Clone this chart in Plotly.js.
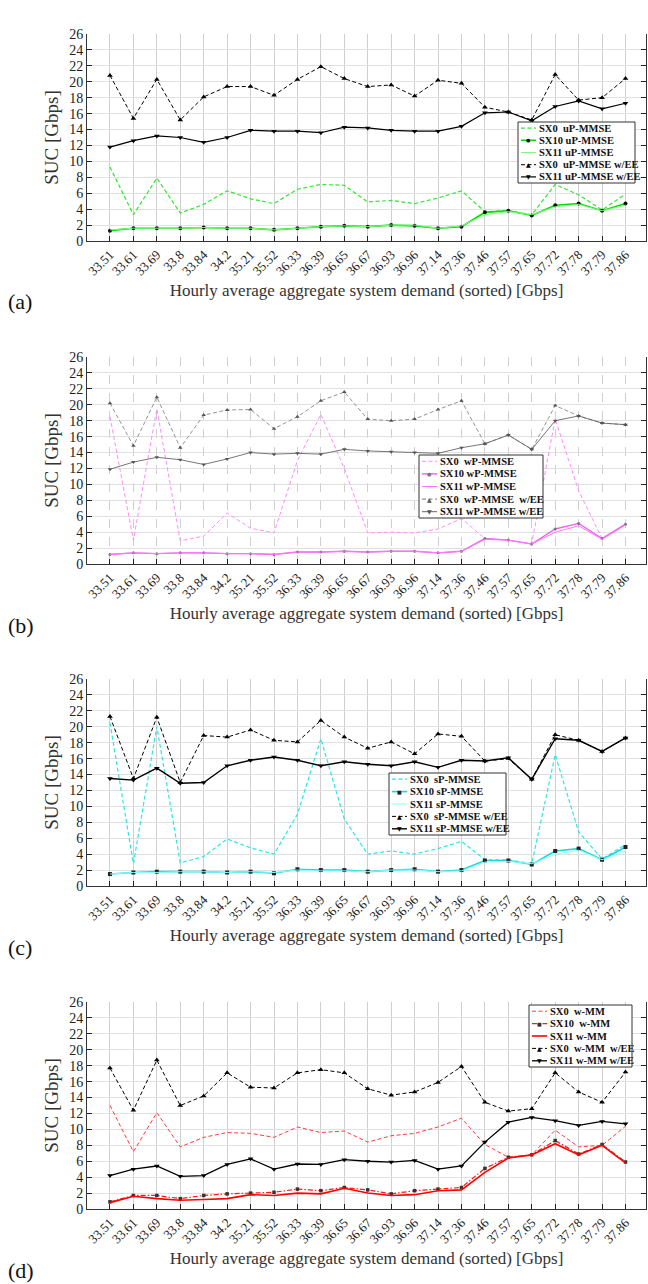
<!DOCTYPE html>
<html><head><meta charset="utf-8">
<script src="https://cdn.plot.ly/plotly-3.0.1.min.js"></script>
<style>html,body{margin:0;padding:0;background:#fff}</style>
</head><body><div id="chart" style="width:648px;height:1284px"></div>
<script>
// ---- data ----
const demand = ["33.51","33.61","33.69","33.8","33.84","34.2","35.21","35.52","36.33","36.39","36.65","36.67","36.93","36.96","37.14","37.36","37.46","37.57","37.65","37.72","37.78","37.79","37.86"];
const hours = ["3","2","1","6","23","21","22","20","19","17","16","18","15","13","11","14","7","5","4","10","8","9","12"];

// (a) uP-MMSE
const a_sx0  = [9.3,3.3,7.9,3.5,4.6,6.3,5.3,4.7,6.5,7.1,7.0,4.9,5.1,4.7,5.4,6.3,3.7,3.8,3.3,7.1,5.8,3.9,5.9];
const a_sx10 = [1.3,1.6,1.6,1.6,1.7,1.6,1.6,1.4,1.6,1.8,1.9,1.8,2.0,1.9,1.6,1.8,3.6,3.8,3.2,4.5,4.7,3.8,4.7];
const a_sx11 = [1.4,1.6,1.6,1.6,1.7,1.6,1.6,1.4,1.6,1.8,1.9,1.8,2.0,2.0,1.6,1.9,3.3,3.7,3.3,4.3,4.6,3.8,4.5];
const a_ee0  = [20.8,15.4,20.3,15.2,18.1,19.4,19.4,18.3,20.3,21.9,20.4,19.4,19.6,18.2,20.2,19.8,16.8,16.2,15.2,20.9,17.7,18.0,20.4];
const a_ee11 = [11.8,12.6,13.2,13.0,12.4,13.0,13.9,13.8,13.8,13.6,14.3,14.2,13.9,13.8,13.8,14.4,16.1,16.2,15.1,16.9,17.6,16.6,17.3];

// (b) wP-MMSE
const b_sx0  = [18.5,3.0,19.5,2.9,3.5,6.4,4.5,3.9,13.0,18.8,12.0,3.9,4.0,3.9,4.4,5.7,3.2,3.0,2.6,18.2,9.2,3.2,5.0];
const b_sx10 = [1.2,1.4,1.3,1.4,1.4,1.3,1.3,1.2,1.5,1.5,1.6,1.5,1.6,1.6,1.4,1.6,3.2,3.0,2.5,4.4,5.1,3.2,5.0];
const b_sx11 = [1.2,1.4,1.3,1.4,1.4,1.3,1.3,1.2,1.5,1.5,1.6,1.5,1.6,1.6,1.4,1.6,3.1,3.0,2.5,4.0,4.8,3.1,4.9];
const b_ee0  = [20.2,14.85,20.95,14.6,18.7,19.35,19.4,17.0,18.5,20.5,21.6,18.2,18.0,18.2,19.4,20.5,15.1,16.2,14.4,19.9,18.6,17.7,17.5];
const b_ee11 = [11.9,12.8,13.4,13.1,12.5,13.2,14.0,13.8,13.9,13.8,14.4,14.2,14.1,14.0,13.9,14.6,15.1,16.2,14.4,18.0,18.6,17.7,17.5];

// (c) sP-MMSE
const c_sx0  = [20.5,2.8,20.0,2.9,3.7,5.9,4.8,4.0,9.0,18.5,8.4,4.0,4.4,4.0,4.7,5.6,3.3,3.3,2.8,16.5,6.8,3.4,5.2];
const c_sx10 = [1.5,1.7,1.8,1.8,1.8,1.7,1.8,1.6,2.1,2.0,2.0,1.8,2.0,2.1,1.8,2.0,3.2,3.2,2.7,4.4,4.7,3.3,4.9];
const c_sx11 = [1.5,1.7,1.7,1.8,1.8,1.7,1.8,1.7,2.0,1.9,1.9,1.8,2.0,2.0,1.8,1.9,3.0,3.1,2.8,4.0,4.5,3.3,4.4];
const c_ee0  = [21.3,13.5,21.2,13.0,18.9,18.7,19.6,18.3,18.1,20.8,18.7,17.3,18.1,16.6,19.1,18.8,15.7,16.0,13.4,19.0,18.3,16.9,18.6];
const c_ee11 = [13.5,13.3,14.8,12.9,13.0,15.1,15.8,16.2,15.8,15.1,15.6,15.3,15.1,15.6,14.9,15.8,15.7,16.1,13.4,18.5,18.3,16.9,18.6];

// (d) w-MM
const d_sx0  = [13.0,7.2,12.1,7.8,9.0,9.6,9.5,9.0,10.3,9.6,9.8,8.4,9.2,9.5,10.3,11.4,8.1,6.5,6.8,9.9,7.8,8.0,10.4];
const d_sx10 = [0.9,1.7,1.7,1.3,1.7,1.9,2.0,2.1,2.5,2.3,2.7,2.4,1.9,2.3,2.5,2.7,5.1,6.5,6.8,8.6,6.9,8.1,5.9];
const d_sx11 = [0.8,1.6,1.3,1.1,1.2,1.3,1.8,1.7,2.0,1.9,2.6,2.0,1.7,1.8,2.3,2.4,4.6,6.4,6.8,8.2,6.8,8.0,5.8];
const d_ee0  = [17.7,12.4,18.7,13.0,14.2,17.1,15.3,15.2,17.1,17.5,17.1,15.1,14.3,14.7,15.9,17.9,13.4,12.3,12.6,17.1,14.7,13.4,17.2];
const d_ee11 = [4.2,5.0,5.4,4.1,4.2,5.6,6.3,5.0,5.65,5.6,6.2,6.0,5.9,6.1,5.0,5.4,8.4,10.9,11.5,11.1,10.5,11.0,10.7];

const yTicks = [0,2,4,6,8,10,12,14,16,18,20,22,24,26];

const names_a = ["SX0\u00a0\u00a0uP-MMSE","SX10 uP-MMSE","SX11 uP-MMSE","SX0\u00a0\u00a0uP-MMSE w/EE","SX11 uP-MMSE w/EE"];
const names_b = ["SX0\u00a0\u00a0wP-MMSE","SX10 wP-MMSE","SX11 wP-MMSE","SX0\u00a0\u00a0wP-MMSE\u00a0\u00a0w/EE","SX11 wP-MMSE w/EE"];
const names_c = ["SX0\u00a0\u00a0sP-MMSE","SX10 sP-MMSE","SX11 sP-MMSE","SX0\u00a0\u00a0sP-MMSE w/EE","SX11 sP-MMSE w/EE"];
const names_d = ["SX0\u00a0\u00a0w-MM","SX10\u00a0\u00a0w-MM","SX11 w-MM","SX0\u00a0\u00a0w-MM\u00a0\u00a0w/EE","SX11 w-MM w/EE"];

// ---- styles ----
const W = 648, H = 1284;
const SERIF = "'Liberation Serif', 'Times New Roman', 'DejaVu Serif', serif";
const DASH = "4px,2.5px", DASHDOT = "5px,2px,1.5px,2px";
const panels = [
  {label:"(a)", data:[a_sx0,a_sx10,a_sx11,a_ee0,a_ee11], names:names_a, top:34, vdash:"solid",
   styles:[
    {c:"#33e633", d:DASH, w:1.2},
    {c:"#00dd00", d:"solid", w:1.6, m:"circle", mc:"#111", ms:4},
    {c:"#7dfa7d", d:"solid", w:1.0},
    {c:"#000", d:DASH, w:1.0, m:"triangle-up", mc:"#000", ms:5},
    {c:"#000", d:"solid", w:1.2, m:"triangle-down", mc:"#000", ms:5}],
   leg:{x0:518, x1:635, y0:122, y1:183}},
  {label:"(b)", data:[b_sx0,b_sx10,b_sx11,b_ee0,b_ee11], names:names_b, top:357, vdash:"dash",
   styles:[
    {c:"#ff8cff", d:DASH, w:1.0},
    {c:"#f060f0", d:"solid", w:1.4, m:"circle", mc:"#777", ms:3},
    {c:"#ff77ff", d:"solid", w:1.0},
    {c:"#777", d:DASH, w:0.8, m:"triangle-up", mc:"#555", ms:4},
    {c:"#666", d:"solid", w:0.9, m:"triangle-down", mc:"#555", ms:4}],
   leg:{x0:419, x1:543, y0:455, y1:518}},
  {label:"(c)", data:[c_sx0,c_sx10,c_sx11,c_ee0,c_ee11], names:names_c, top:679, vdash:"solid",
   styles:[
    {c:"#2fe6e6", d:DASH, w:1.2},
    {c:"#1ad9d9", d:"solid", w:1.6, m:"square", mc:"#222", ms:4},
    {c:"#8affff", d:"solid", w:1.0},
    {c:"#000", d:DASH, w:1.0, m:"triangle-up", mc:"#000", ms:5},
    {c:"#000", d:"solid", w:1.4, m:"triangle-down", mc:"#000", ms:5}],
   leg:{x0:389, x1:506, y0:773, y1:835}},
  {label:"(d)", data:[d_sx0,d_sx10,d_sx11,d_ee0,d_ee11], names:names_d, top:1002, vdash:"solid",
   styles:[
    {c:"#ff3b3b", d:DASH, w:1.0},
    {c:"#ff1a1a", d:DASHDOT, w:1.2, m:"square", mc:"#333", ms:3.5},
    {c:"#ff0000", d:"solid", w:1.6},
    {c:"#000", d:DASH, w:1.0, m:"triangle-up", mc:"#000", ms:5},
    {c:"#000", d:"solid", w:1.3, m:"triangle-down", mc:"#000", ms:5}],
   leg:{x0:529, x1:632, y0:1005, y1:1067}}
];

const plotH = 207, xL = 87, xR = 646;
const xRange = [-0.98, 22.875];
const py = v => 1 - v / H;
const px = v => v / W;

const traces = [];
const layout = {
  width: W, height: H, margin: {l:0, r:0, t:0, b:0},
  paper_bgcolor: "#fff", plot_bgcolor: "#fff",
  showlegend: false, font: {family: SERIF, color: "#222"},
  shapes: [], annotations: []
};

const idx = demand.map((_, i) => i);

panels.forEach((P, k) => {
  const n = k + 1;
  const xs = n === 1 ? "" : String(n);
  const xName = "x" + xs, yName = "y" + xs;
  const dom = [py(P.top + plotH), py(P.top)];

  P.data.forEach((arr, j) => {
    const s = P.styles[j];
    const t = {
      type: "scatter", x: demand, y: arr, xaxis: xName, yaxis: yName,
      name: P.names[j], mode: s.m ? "lines+markers" : "lines",
      line: {color: s.c, dash: s.d, width: s.w}, hoverinfo: "skip"
    };
    if (s.m) t.marker = {symbol: s.m, color: s.mc, size: s.ms};
    traces.push(t);
  });

  layout["xaxis" + xs] = {
    domain: [px(xL), px(xR)], anchor: yName, type: "category",
    range: xRange, tickangle: -45, ticks: "inside", ticklen: 5, tickcolor: "#222",
    showline: true, linecolor: "#333", linewidth: 1, mirror: false,
    showgrid: true, gridcolor: "#cfcfcf", gridwidth: 1, griddash: P.vdash,
    tickfont: {family: SERIF, size: 13, color: "#222"},
    title: {text: "Hourly average aggregate system demand (sorted) [Gbps]",
            font: {family: SERIF, size: 17, color: "#333"}, standoff: 6},
    zeroline: false, fixedrange: true
  };
  layout["yaxis" + xs] = {
    domain: dom, anchor: xName, range: [0, 26], tickvals: yTicks,
    ticks: "inside", ticklen: 5, tickcolor: "#222",
    showline: true, linecolor: "#333", linewidth: 1, mirror: "ticks",
    showgrid: true, gridcolor: "#e0e0e0", gridwidth: 1,
    tickfont: {family: SERIF, size: 14, color: "#222"},
    title: {text: "SUC [Gbps]", font: {family: SERIF, size: 19, color: "#333"}, standoff: 5},
    zeroline: false, fixedrange: true
  };
  layout["xaxis" + (n + 4)] = {
    overlaying: xName, anchor: yName, side: "top", type: "linear",
    range: xRange, tickmode: "array", tickvals: idx, ticktext: hours,
    ticks: "inside", ticklen: 5, tickcolor: "#000",
    showline: true, linecolor: "#000", linewidth: 1,
    showgrid: false, zeroline: false,
    tickfont: {family: SERIF, size: 13, color: "#222"},
    title: {text: "t", font: {family: SERIF, size: 14, color: "#222"}, standoff: 2},
    fixedrange: true
  };

  // panel label
  layout.annotations.push({
    xref: "paper", yref: "paper", x: px(6), y: py(P.top + 268), xanchor: "left", yanchor: "middle",
    text: P.label, showarrow: false, font: {family: SERIF, size: 22, color: "#111"}
  });

  // legend box
  const L = P.leg;
  layout.shapes.push({type: "rect", xref: "paper", yref: "paper",
    x0: px(L.x0), x1: px(L.x1), y0: py(L.y1), y1: py(L.y0),
    line: {color: "#333", width: 1}, fillcolor: "#fff", layer: "above"});
  const rowH = (L.y1 - L.y0) / 5;
  P.styles.forEach((s, j) => {
    const yc = L.y0 + rowH * (j + 0.5);
    layout.shapes.push({type: "line", xref: "paper", yref: "paper",
      x0: px(L.x0 + 3), x1: px(L.x0 + 18), y0: py(yc), y1: py(yc),
      line: {color: s.c, width: Math.max(s.w, 1), dash: s.d}, layer: "above"});
    if (s.m) {
      const glyph = {"circle": "\u25CF", "square": "\u25A0", "triangle-up": "\u25B2", "triangle-down": "\u25BC"}[s.m];
      layout.annotations.push({xref: "paper", yref: "paper", x: px(L.x0 + 10.5), y: py(yc),
        xanchor: "center", yanchor: "middle", text: glyph, showarrow: false,
        font: {family: "DejaVu Sans", size: s.m.startsWith("tri") ? 6 : 5, color: s.mc}});
    }
    layout.annotations.push({xref: "paper", yref: "paper", x: px(L.x0 + 19), y: py(yc),
      xanchor: "left", yanchor: "middle", text: "<b>" + P.names[j] + "</b>", showarrow: false,
      font: {family: SERIF, size: 10.5, color: "#111"}});
  });
});

Plotly.newPlot("chart", traces, layout, {staticPlot: true, displayModeBar: false});
</script>
</body></html>
